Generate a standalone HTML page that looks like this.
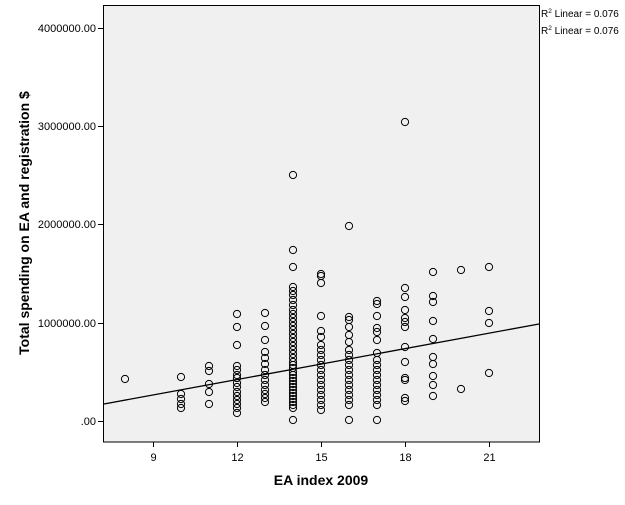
<!DOCTYPE html>
<html><head><meta charset="utf-8"><style>
body{margin:0;background:#fff;width:625px;height:500px;overflow:hidden}
svg text{font-family:"Liberation Sans",Arial,sans-serif}
</style></head><body>
<svg width="625" height="500" xmlns="http://www.w3.org/2000/svg">
<rect x="103.5" y="5.5" width="436" height="436.5" fill="#f0f0f0" stroke="#000" stroke-width="1"/>
<g stroke="#000" stroke-width="1">
<line x1="98" y1="28.5" x2="103.5" y2="28.5"/><line x1="98" y1="126.5" x2="103.5" y2="126.5"/>
<line x1="98" y1="224.5" x2="103.5" y2="224.5"/><line x1="98" y1="323.5" x2="103.5" y2="323.5"/>
<line x1="98" y1="421.5" x2="103.5" y2="421.5"/>
<line x1="153.5" y1="442" x2="153.5" y2="447"/><line x1="237.5" y1="442" x2="237.5" y2="447"/>
<line x1="321.5" y1="442" x2="321.5" y2="447"/><line x1="405.5" y1="442" x2="405.5" y2="447"/>
<line x1="489.5" y1="442" x2="489.5" y2="447"/>
</g>
<g font-size="11" text-anchor="end" fill="#000">
<text x="96" y="32">4000000.00</text><text x="96" y="130">3000000.00</text>
<text x="96" y="228">2000000.00</text><text x="96" y="327">1000000.00</text>
<text x="96" y="425">.00</text>
</g>
<g font-size="11" text-anchor="middle">
<text x="153.5" y="461">9</text><text x="237.5" y="461">12</text><text x="321.5" y="461">15</text>
<text x="405.5" y="461">18</text><text x="489.5" y="461">21</text>
</g>
<text x="321" y="485" font-size="14" font-weight="bold" text-anchor="middle">EA index 2009</text>
<text transform="translate(29,223) rotate(-90)" font-size="14" font-weight="bold" text-anchor="middle">Total spending on EA and registration $</text>
<g font-size="10"><text x="541" y="17">R<tspan font-size="6.5" dy="-4">2</tspan><tspan dy="4"> Linear = 0.076</tspan></text>
<text x="541" y="34">R<tspan font-size="6.5" dy="-4">2</tspan><tspan dy="4"> Linear = 0.076</tspan></text></g>
<line x1="104" y1="404" x2="539" y2="324" stroke="#000" stroke-width="1.3"/>
<g fill="none" stroke="#000" stroke-width="1">
<circle cx="125" cy="379" r="3.6"/>
<circle cx="181" cy="377" r="3.6"/><circle cx="181" cy="394" r="3.6"/><circle cx="181" cy="399" r="3.6"/><circle cx="181" cy="404" r="3.6"/><circle cx="181" cy="408" r="3.6"/>
<circle cx="209" cy="366" r="3.6"/><circle cx="209" cy="371" r="3.6"/><circle cx="209" cy="384" r="3.6"/><circle cx="209" cy="392" r="3.6"/><circle cx="209" cy="404" r="3.6"/>
<circle cx="237" cy="314" r="3.6"/><circle cx="237" cy="327" r="3.6"/><circle cx="237" cy="345" r="3.6"/><circle cx="237" cy="366" r="3.6"/><circle cx="237" cy="370" r="3.6"/><circle cx="237" cy="375" r="3.6"/><circle cx="237" cy="378" r="3.6"/><circle cx="237" cy="383" r="3.6"/><circle cx="237" cy="387" r="3.6"/><circle cx="237" cy="392" r="3.6"/><circle cx="237" cy="396" r="3.6"/><circle cx="237" cy="400" r="3.6"/><circle cx="237" cy="404" r="3.6"/><circle cx="237" cy="408" r="3.6"/><circle cx="237" cy="413" r="3.6"/>
<circle cx="265" cy="313" r="3.6"/><circle cx="265" cy="326" r="3.6"/><circle cx="265" cy="340" r="3.6"/><circle cx="265" cy="352" r="3.6"/><circle cx="265" cy="358" r="3.6"/><circle cx="265" cy="364" r="3.6"/><circle cx="265" cy="370" r="3.6"/><circle cx="265" cy="375" r="3.6"/><circle cx="265" cy="380" r="3.6"/><circle cx="265" cy="385" r="3.6"/><circle cx="265" cy="390" r="3.6"/><circle cx="265" cy="394" r="3.6"/><circle cx="265" cy="398" r="3.6"/><circle cx="265" cy="402" r="3.6"/>
<circle cx="293" cy="175" r="3.6"/><circle cx="293" cy="250" r="3.6"/><circle cx="293" cy="267" r="3.6"/><circle cx="293" cy="287" r="3.6"/><circle cx="293" cy="291" r="3.6"/><circle cx="293" cy="295" r="3.6"/><circle cx="293" cy="300" r="3.6"/><circle cx="293" cy="305" r="3.6"/><circle cx="293" cy="310" r="3.6"/><circle cx="293" cy="314" r="3.6"/><circle cx="293" cy="318" r="3.6"/><circle cx="293" cy="322" r="3.6"/><circle cx="293" cy="326" r="3.6"/><circle cx="293" cy="330" r="3.6"/><circle cx="293" cy="334" r="3.6"/><circle cx="293" cy="338" r="3.6"/><circle cx="293" cy="342" r="3.6"/><circle cx="293" cy="346" r="3.6"/><circle cx="293" cy="350" r="3.6"/><circle cx="293" cy="354" r="3.6"/><circle cx="293" cy="358" r="3.6"/><circle cx="293" cy="362" r="3.6"/><circle cx="293" cy="365" r="3.6"/><circle cx="293" cy="368" r="3.6"/><circle cx="293" cy="372" r="3.6"/><circle cx="293" cy="375" r="3.6"/><circle cx="293" cy="378" r="3.6"/><circle cx="293" cy="381" r="3.6"/><circle cx="293" cy="384" r="3.6"/><circle cx="293" cy="387" r="3.6"/><circle cx="293" cy="390" r="3.6"/><circle cx="293" cy="393" r="3.6"/><circle cx="293" cy="396" r="3.6"/><circle cx="293" cy="399" r="3.6"/><circle cx="293" cy="402" r="3.6"/><circle cx="293" cy="405" r="3.6"/><circle cx="293" cy="408" r="3.6"/><circle cx="293" cy="420" r="3.6"/>
<circle cx="321" cy="274" r="3.6"/><circle cx="321" cy="276" r="3.6"/><circle cx="321" cy="283" r="3.6"/><circle cx="321" cy="316" r="3.6"/><circle cx="321" cy="331" r="3.6"/><circle cx="321" cy="337" r="3.6"/><circle cx="321" cy="345" r="3.6"/><circle cx="321" cy="350" r="3.6"/><circle cx="321" cy="355" r="3.6"/><circle cx="321" cy="360" r="3.6"/><circle cx="321" cy="365" r="3.6"/><circle cx="321" cy="370" r="3.6"/><circle cx="321" cy="375" r="3.6"/><circle cx="321" cy="380" r="3.6"/><circle cx="321" cy="385" r="3.6"/><circle cx="321" cy="390" r="3.6"/><circle cx="321" cy="395" r="3.6"/><circle cx="321" cy="400" r="3.6"/><circle cx="321" cy="405" r="3.6"/><circle cx="321" cy="410" r="3.6"/>
<circle cx="349" cy="226" r="3.6"/><circle cx="349" cy="317" r="3.6"/><circle cx="349" cy="320" r="3.6"/><circle cx="349" cy="327" r="3.6"/><circle cx="349" cy="335" r="3.6"/><circle cx="349" cy="342" r="3.6"/><circle cx="349" cy="350" r="3.6"/><circle cx="349" cy="355" r="3.6"/><circle cx="349" cy="360" r="3.6"/><circle cx="349" cy="365" r="3.6"/><circle cx="349" cy="370" r="3.6"/><circle cx="349" cy="375" r="3.6"/><circle cx="349" cy="380" r="3.6"/><circle cx="349" cy="385" r="3.6"/><circle cx="349" cy="390" r="3.6"/><circle cx="349" cy="395" r="3.6"/><circle cx="349" cy="400" r="3.6"/><circle cx="349" cy="405" r="3.6"/><circle cx="349" cy="420" r="3.6"/>
<circle cx="377" cy="301" r="3.6"/><circle cx="377" cy="304" r="3.6"/><circle cx="377" cy="316" r="3.6"/><circle cx="377" cy="328" r="3.6"/><circle cx="377" cy="332" r="3.6"/><circle cx="377" cy="340" r="3.6"/><circle cx="377" cy="353" r="3.6"/><circle cx="377" cy="360" r="3.6"/><circle cx="377" cy="365" r="3.6"/><circle cx="377" cy="370" r="3.6"/><circle cx="377" cy="375" r="3.6"/><circle cx="377" cy="380" r="3.6"/><circle cx="377" cy="385" r="3.6"/><circle cx="377" cy="390" r="3.6"/><circle cx="377" cy="395" r="3.6"/><circle cx="377" cy="400" r="3.6"/><circle cx="377" cy="405" r="3.6"/><circle cx="377" cy="420" r="3.6"/>
<circle cx="405" cy="122" r="3.6"/><circle cx="405" cy="288" r="3.6"/><circle cx="405" cy="297" r="3.6"/><circle cx="405" cy="310" r="3.6"/><circle cx="405" cy="318" r="3.6"/><circle cx="405" cy="322" r="3.6"/><circle cx="405" cy="327" r="3.6"/><circle cx="405" cy="347" r="3.6"/><circle cx="405" cy="362" r="3.6"/><circle cx="405" cy="378" r="3.6"/><circle cx="405" cy="380" r="3.6"/><circle cx="405" cy="398" r="3.6"/><circle cx="405" cy="401" r="3.6"/>
<circle cx="433" cy="272" r="3.6"/><circle cx="433" cy="296" r="3.6"/><circle cx="433" cy="302" r="3.6"/><circle cx="433" cy="321" r="3.6"/><circle cx="433" cy="339" r="3.6"/><circle cx="433" cy="357" r="3.6"/><circle cx="433" cy="364" r="3.6"/><circle cx="433" cy="376" r="3.6"/><circle cx="433" cy="385" r="3.6"/><circle cx="433" cy="396" r="3.6"/>
<circle cx="461" cy="270" r="3.6"/><circle cx="461" cy="389" r="3.6"/>
<circle cx="489" cy="267" r="3.6"/><circle cx="489" cy="311" r="3.6"/><circle cx="489" cy="323" r="3.6"/><circle cx="489" cy="373" r="3.6"/>
</g>
</svg>
</body></html>
